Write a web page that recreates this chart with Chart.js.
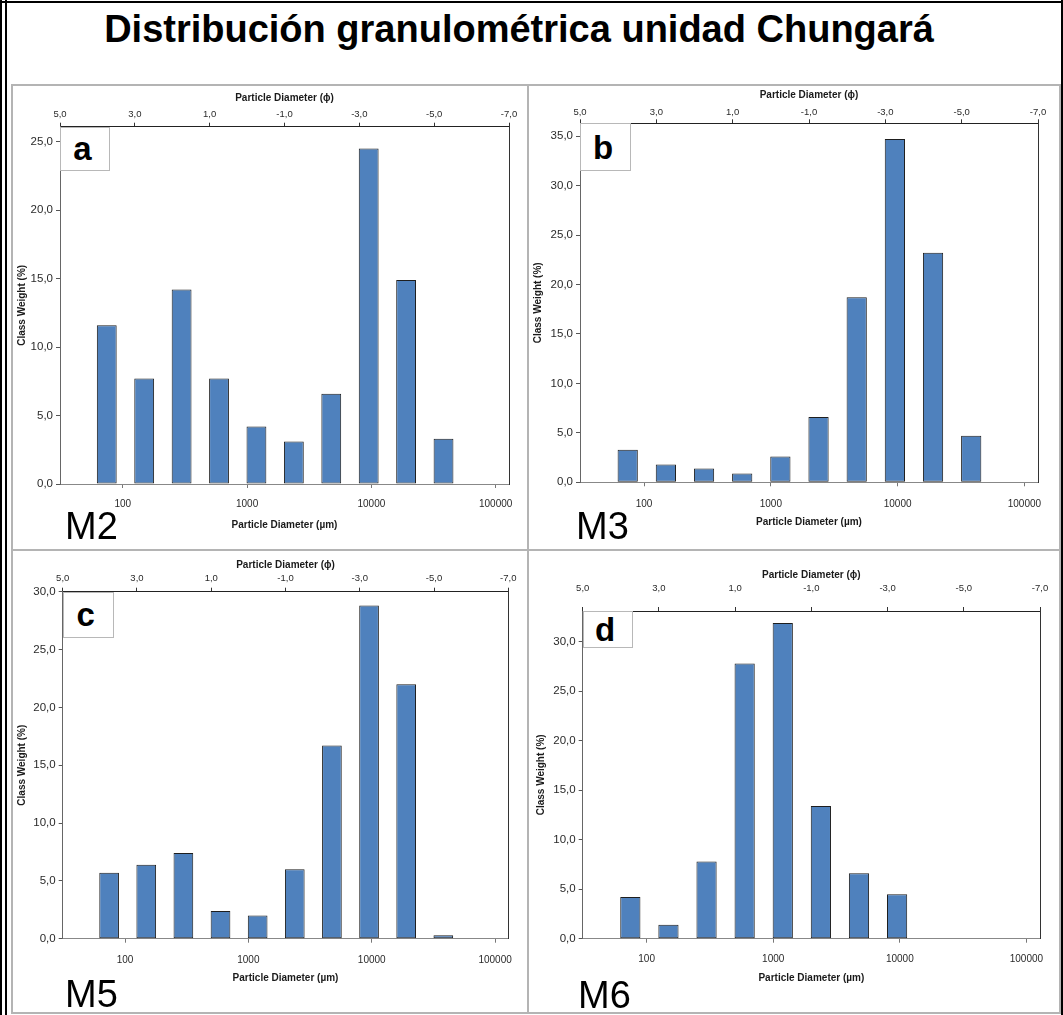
<!DOCTYPE html>
<html>
<head>
<meta charset="utf-8">
<title>Distribución granulométrica unidad Chungará</title>
<script src="https://cdn.jsdelivr.net/npm/chart.js@4.4.1/dist/chart.umd.min.js"></script>
<style>
  html, body { margin: 0; padding: 0; background: #fff; }
  #page { position: relative; width: 1063px; height: 1015px; overflow: hidden;
          font-family: "Liberation Sans", Arial, sans-serif; background: #fff; }
  .cell { position: absolute; }
  .cell canvas { position: absolute; left: 0; top: 0; }
  #title { position: absolute; left: 0; top: 10px; width: 1038px; text-align: center;
           font-weight: bold; font-size: 38px; line-height: 38px; color: #000; white-space: nowrap; }
  .mlabel { position: absolute; font-size: 38px; line-height: 38px; color: #000; }
  .tag { position: absolute; background: #fff; border: 1px solid #b8b8b8; box-sizing: border-box;
         display: flex; align-items: center; justify-content: center;
         font-weight: bold; font-size: 33px; line-height: 1; color: #000; padding-right: 5px; }
  .rule { position: absolute; }
</style>
</head>
<body>
<div id="page">
  <div id="title">Distribución granulométrica unidad Chungará</div>

  <div class="cell" id="cellA" style="left:12px;top:85px;width:516px;height:465px;"><canvas id="cA" width="516" height="465"></canvas></div>
  <div class="cell" id="cellB" style="left:528px;top:85px;width:534px;height:465px;"><canvas id="cB" width="534" height="465"></canvas></div>
  <div class="cell" id="cellC" style="left:12px;top:550px;width:516px;height:463px;"><canvas id="cC" width="516" height="463"></canvas></div>
  <div class="cell" id="cellD" style="left:528px;top:550px;width:534px;height:463px;"><canvas id="cD" width="534" height="463"></canvas></div>

  <div class="tag" id="tagA">a</div>
  <div class="tag" id="tagB">b</div>
  <div class="tag" id="tagC">c</div>
  <div class="tag" id="tagD">d</div>

  <div class="mlabel" style="left:65px;top:507px;">M2</div>
  <div class="mlabel" style="left:576px;top:507px;">M3</div>
  <div class="mlabel" style="left:65px;top:975px;">M5</div>
  <div class="mlabel" style="left:578px;top:976px;">M6</div>
</div>

<script>
// ---- data -------------------------------------------------------------
// Sieve sizes (µm) that open each weight class
const SIEVE_UM = [62.5, 125, 250, 500, 1000, 2000, 4000, 8000, 16000, 32000];

// Class weight (%) per sample
const M2_WEIGHT = [11.6, 7.7, 14.2, 7.7, 4.2, 3.1, 6.6, 24.5, 14.9, 3.3];
const M3_WEIGHT = [3.3, 1.8, 1.4, 0.9, 2.6, 6.6, 18.7, 34.7, 23.2, 4.7];
const M5_WEIGHT = [5.7, 6.4, 7.4, 2.4, 2.0, 6.0, 16.7, 28.8, 22.0, 0.3];
const M6_WEIGHT = [4.2, 1.4, 7.8, 27.8, 31.9, 13.4, 6.6, 4.5];

// Tick labels
const PHI_TICKS = [5, 3, 1, -1, -3, -5, -7];
const UM_TICKS = [100, 1000, 10000, 100000];
const Y_TICKS_M2 = [0, 5, 10, 15, 20, 25];
const Y_TICKS_M3 = [0, 5, 10, 15, 20, 25, 30, 35];
const Y_TICKS_M5 = [0, 5, 10, 15, 20, 25, 30];
const Y_TICKS_M6 = [0, 5, 10, 15, 20, 25, 30];

// Upper limit of each weight axis
const Y_MAX = { M2: 26.1, M3: 36.3, M5: 30, M6: 33.1 };

// ---- helpers ----------------------------------------------------------
const FONT = '"Liberation Sans", Arial, sans-serif';
const phiOf = um => -Math.log2(um / 1000);
const umOf = phi => 1000 * Math.pow(2, -phi);
const PHI_MIN = Math.min(...PHI_TICKS);
const PHI_MAX = Math.max(...PHI_TICKS);
const comma = v => Number(v).toFixed(1).replace('.', ',');

// Each class is drawn as a half-phi bar on the fine side of its sieve
function classBars(values) {
  return values.map((v, i) => ({ x: phiOf(SIEVE_UM[i]) - 0.25, y: v }));
}

function makePanel(p) {
  const chart = new Chart(document.getElementById(p.canvas), {
    type: 'bar',
    data: {
      datasets: [{
        data: classBars(p.values),
        xAxisID: 'phi', yAxisID: 'y',
        backgroundColor: '#4f81bd',
        borderColor: '#1e1e1e',
        borderWidth: 1,
        borderSkipped: false,
        barPercentage: 0.53,
        categoryPercentage: 1
      }]
    },
    options: {
      responsive: false,
      animation: false,
      devicePixelRatio: 1,
      events: [],
      plugins: { legend: { display: false }, tooltip: { enabled: false } },
      layout: { padding: { left: p.padL, top: p.padT, right: p.padR, bottom: p.padB } },
      scales: {
        phi: {
          axis: 'x', type: 'linear', position: 'top',
          min: PHI_MIN, max: PHI_MAX, reverse: true, offset: false, bounds: 'data',
          afterBuildTicks: s => { s.ticks = PHI_TICKS.map(v => ({ value: v })); },
          afterFit: s => { s.height = p.topH; },
          grid: { drawOnChartArea: false, drawTicks: true, tickLength: 4, tickColor: '#333', offset: false },
          border: { display: true, color: '#222', width: 1 },
          ticks: { autoSkip: false, maxRotation: 0, padding: p.topPad, color: '#2a2a2a',
                   font: { family: FONT, size: 9.5 }, callback: v => comma(v) },
          title: { display: true, text: 'Particle Diameter (ϕ)', color: '#1a1a1a',
                   font: { family: FONT, size: 10, weight: 'bold' }, padding: { top: 4, bottom: 4 } }
        },
        um: {
          axis: 'x', type: 'logarithmic', position: 'bottom',
          min: umOf(PHI_MAX), max: umOf(PHI_MIN), offset: false, bounds: 'data',
          afterBuildTicks: s => { s.ticks = UM_TICKS.map(v => ({ value: v })); },
          afterFit: s => { s.height = p.botH; },
          grid: { drawOnChartArea: false, drawTicks: true, tickLength: 4, tickColor: '#777', offset: false },
          border: { display: true, color: '#888', width: 1 },
          ticks: { autoSkip: false, maxRotation: 0, padding: p.botPad, color: '#2a2a2a',
                   font: { family: FONT, size: 10 }, callback: v => String(v) },
          title: { display: true, text: 'Particle Diameter (µm)', color: '#1a1a1a',
                   font: { family: FONT, size: 10, weight: 'bold' }, padding: { top: 4, bottom: 4 } }
        },
        y: {
          axis: 'y', type: 'linear', position: 'left',
          min: 0, max: p.yMax, bounds: 'data',
          afterBuildTicks: s => { s.ticks = p.yTicks.map(v => ({ value: v })); },
          afterFit: s => { s.width = p.yW; },
          grid: { drawOnChartArea: false, drawTicks: true, tickLength: 4, tickColor: '#555' },
          border: { display: true, color: '#666', width: 1 },
          ticks: { padding: 3, color: '#2a2a2a', font: { family: FONT, size: 11.5 }, callback: v => comma(v) },
          title: { display: true, text: 'Class Weight (%)', color: '#1a1a1a',
                   font: { family: FONT, size: 10, weight: 'bold' }, padding: { top: 4, bottom: 4 } }
        },
        yr: {
          axis: 'y', type: 'linear', position: 'right', min: 0, max: 1,
          afterFit: s => { s.width = 0; },
          grid: { display: false },
          ticks: { display: false },
          border: { display: true, color: '#333', width: 1 }
        }
      }
    }
  });

  // letter tag in the upper-left corner of the plot area
  const cell = document.getElementById(p.cell);
  const tag = document.getElementById(p.tag);
  const area = chart.chartArea;
  tag.style.left = (cell.offsetLeft + area.left) + 'px';
  tag.style.top = (cell.offsetTop + area.top) + 'px';
  tag.style.width = p.tagW + 'px';
  tag.style.height = p.tagH + 'px';
  return chart;
}

makePanel({ canvas: 'cA', cell: 'cellA', tag: 'tagA', values: M2_WEIGHT, yMax: Y_MAX.M2, yTicks: Y_TICKS_M2,
  padL: 0, padT: 3.3, padR: 19, padB: 15, yW: 48, topH: 38.4, botH: 51, topPad: 3, botPad: 10.3, tagW: 50, tagH: 44 });
makePanel({ canvas: 'cB', cell: 'cellB', tag: 'tagB', values: M3_WEIGHT, yMax: Y_MAX.M3, yTicks: Y_TICKS_M3,
  padL: 0, padT: 0, padR: 24, padB: 17.7, yW: 52, topH: 38.3, botH: 50, topPad: 1, botPad: 12, tagW: 51, tagH: 48 });
makePanel({ canvas: 'cC', cell: 'cellC', tag: 'tagC', values: M5_WEIGHT, yMax: Y_MAX.M5, yTicks: Y_TICKS_M5,
  padL: 0, padT: 5, padR: 19.7, padB: 24.7, yW: 50.7, topH: 36.7, botH: 49.6, topPad: 3.3, botPad: 11.3, tagW: 51, tagH: 46 });
makePanel({ canvas: 'cD', cell: 'cellD', tag: 'tagD', values: M6_WEIGHT, yMax: Y_MAX.M6, yTicks: Y_TICKS_M6,
  padL: 3.7, padT: 15, padR: 22, padB: 24.7, yW: 51, topH: 46, botH: 49.6, topPad: 13.3, botPad: 10.3, tagW: 50, tagH: 37 });

// ---- frame: outer black border and gray panel grid ----------------------
const page = document.getElementById('page');
function rule(l, t, w, h, c) {
  const d = document.createElement('div');
  d.className = 'rule';
  d.style.cssText = `left:${l}px;top:${t}px;width:${w}px;height:${h}px;background:${c};`;
  page.appendChild(d);
}
const GRAY = '#b4b4b4';
rule(12, 84, 1048, 2, GRAY);
rule(12, 549, 1048, 2, GRAY);
rule(12, 1012, 1048, 2, GRAY);
rule(11, 84, 2, 930, GRAY);
rule(527, 84, 2, 930, GRAY);
rule(1059, 84, 2, 930, GRAY);
rule(0, 1, 1063, 2, '#000');
rule(0, 0, 2, 1015, '#000');
rule(5, 0, 2, 1015, '#000');
rule(1061, 0, 2, 1015, '#000');
</script>
</body>
</html>
